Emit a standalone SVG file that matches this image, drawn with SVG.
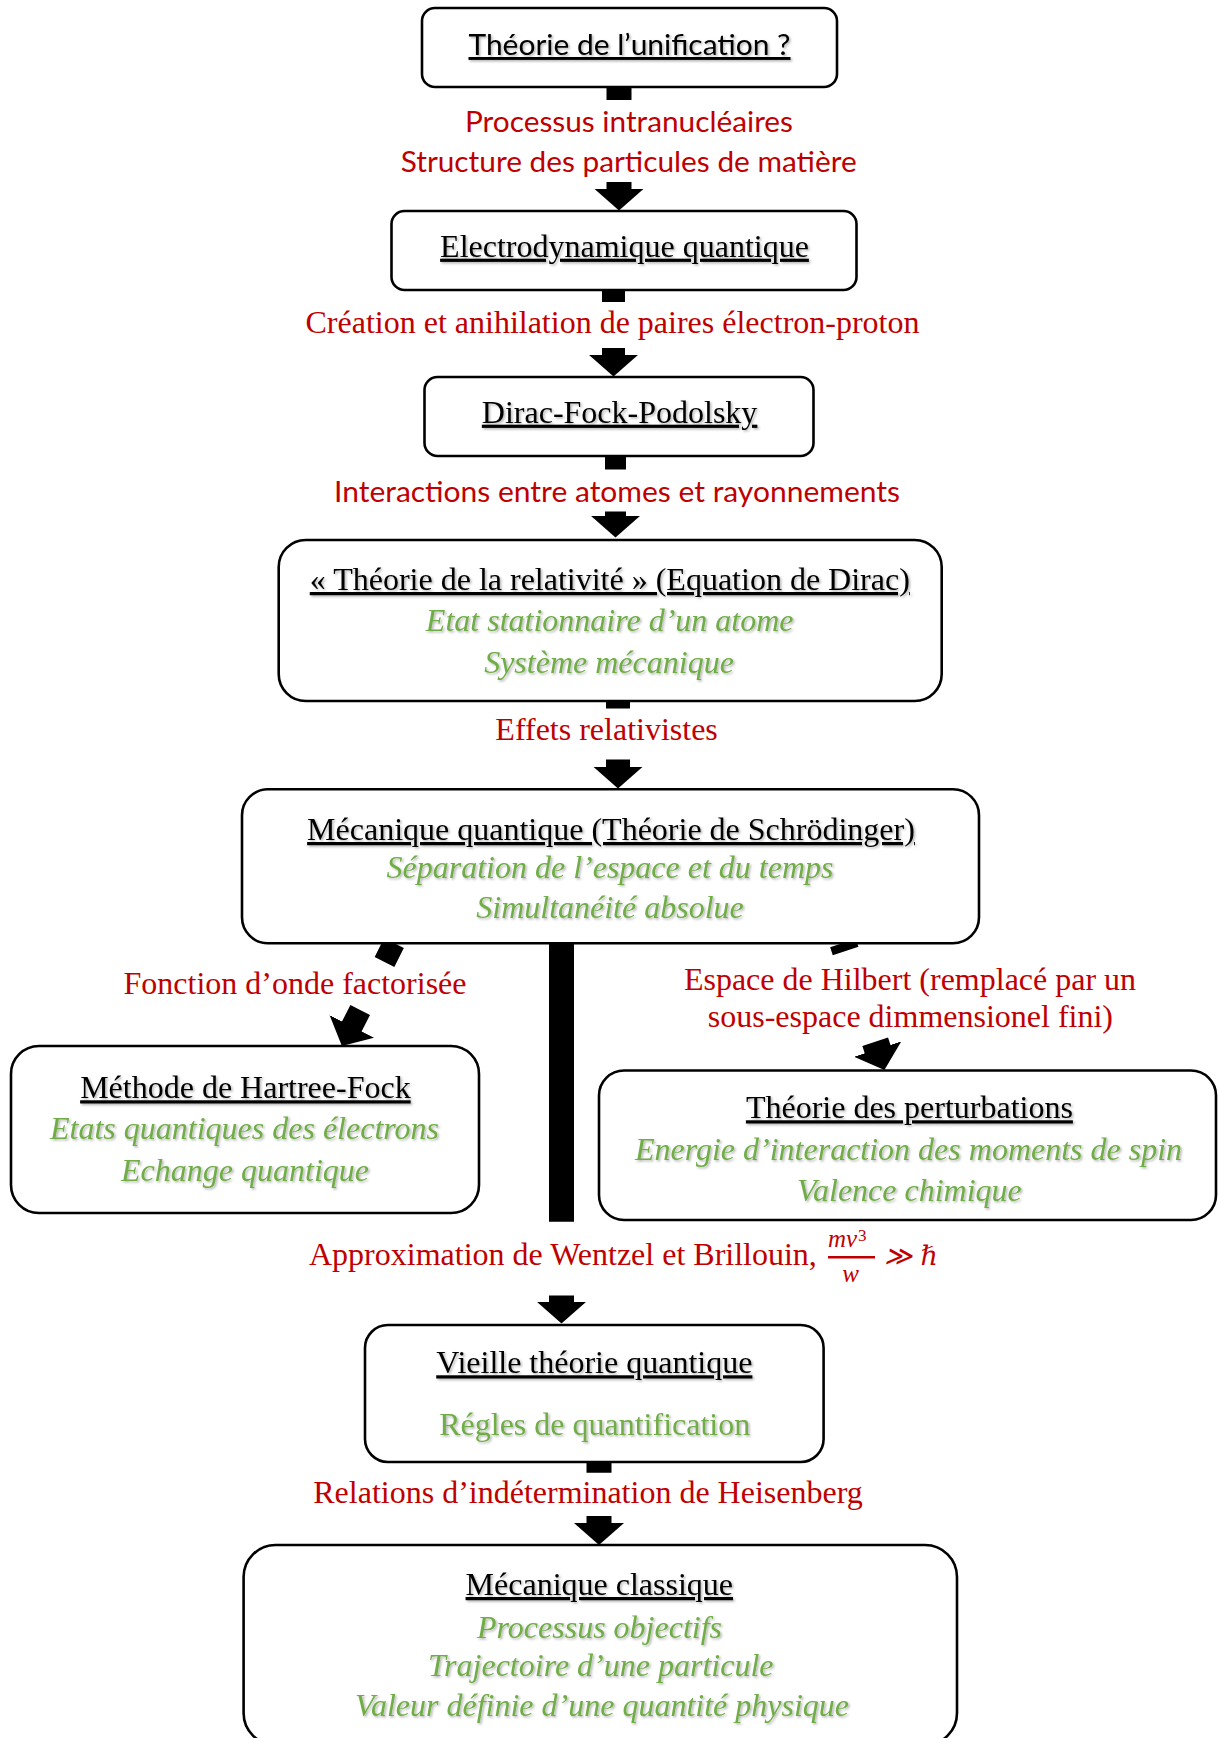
<svg xmlns="http://www.w3.org/2000/svg" width="1218" height="1738" viewBox="0 0 1218 1738">
<style>
.box{fill:#fff;stroke:#000;stroke-width:2.6}
.t{font-family:"Liberation Serif","Times New Roman",serif;font-size:32px;text-anchor:middle}
.ti{text-decoration:underline;fill:#000;filter:url(#sh)}
.g{fill:#70AD47;font-style:italic;filter:url(#sh)}
.gu{fill:#70AD47;filter:url(#sh)}
.r{fill:#C00000}
.c{font-family:Lato,"Open Sans",sans-serif;font-size:29px;text-anchor:middle}
.conn{fill:none;stroke:#000;stroke-linecap:butt}
</style>
<defs>
<filter id="sh" x="-5%" y="-20%" width="110%" height="150%">
<feDropShadow dx="1.5" dy="1.5" stdDeviation="1" flood-color="#000" flood-opacity="0.3"/>
</filter>
<marker id="ah" markerUnits="userSpaceOnUse" viewBox="0 -25 22 50" markerWidth="22" markerHeight="50" refX="1" refY="0" orient="auto">
<path d="M0,-25 L22,0 L0,25 Z" fill="#000"/>
</marker>
</defs>

<g id="connectors">
<path class="conn" stroke-width="25" d="M619 87 V100 M619 182 V189.5" marker-end="url(#ah)"/>
<path class="conn" stroke-width="23" d="M613.5 290 V302 M613.5 348 V355.5" marker-end="url(#ah)"/>
<path class="conn" stroke-width="21" d="M615.5 456 V469.5 M615.5 511.5 V516.5" marker-end="url(#ah)"/>
<path class="conn" stroke-width="24" d="M618 701 V708.5 M618 759.5 V767.5" marker-end="url(#ah)"/>
<path class="conn" stroke-width="22" d="M394 943 L384.5 962 M360.2 1010 L351.4 1027.3" marker-end="url(#ah)"/>
<path class="conn" stroke-width="27" d="M843 943 L845.6 951 M875.2 1041.7 L877.9 1050" marker-end="url(#ah)"/>
<path class="conn" stroke-width="25" d="M561.5 943 V1221.7 M561.5 1295.5 V1302.5" marker-end="url(#ah)"/>
<path class="conn" stroke-width="25" d="M599 1462 V1472.7 M599 1516 V1524" marker-end="url(#ah)"/>
</g>

<g id="labels">
<text class="c r" x="629" y="131.7" textLength="328" lengthAdjust="spacingAndGlyphs">Processus intranucléaires</text>
<text class="c r" x="628.7" y="171.7" textLength="456" lengthAdjust="spacingAndGlyphs">Structure des particules de matière</text>
<text class="t r" x="612.5" y="333.3">Création et anihilation de paires électron-proton</text>
<text class="c r" x="617" y="501.7" textLength="566" lengthAdjust="spacingAndGlyphs">Interactions entre atomes et rayonnements</text>
<text class="t r" x="606.6" y="740">Effets relativistes</text>
<text class="t r" x="295" y="994">Fonction d’onde factorisée</text>
<text class="t r" x="910" y="990">Espace de Hilbert (remplacé par un</text>
<text class="t r" x="910.4" y="1026.7">sous-espace dimmensionel fini)</text>
<g id="label-wkb">
<text class="t r" x="309" y="1265" style="text-anchor:start">Approximation de Wentzel et Brillouin,</text>
<text x="828" y="1246.7" fill="#C00000" font-family="Liberation Serif,serif" font-style="italic" font-size="25">mv</text>
<text x="858" y="1241" fill="#C00000" font-family="Liberation Serif,serif" font-size="17">3</text>
<line x1="828" y1="1257.3" x2="875" y2="1257.3" stroke="#C00000" stroke-width="2.4"/>
<text x="850.5" y="1281.7" fill="#C00000" font-family="Liberation Serif,serif" font-style="italic" font-size="25" text-anchor="middle">w</text>
<text x="884" y="1265" fill="#C00000" font-family="DejaVu Serif,serif" font-style="italic" font-size="27" textLength="54" lengthAdjust="spacingAndGlyphs">≫ ℏ</text>
</g>
<text class="t r" x="588" y="1503.3">Relations d’indétermination de Heisenberg</text>
</g>

<g id="n1">
<rect class="box" x="422" y="8" width="415" height="79" rx="13"/>
<text class="c ti" x="629.5" y="55" font-size="31" textLength="322" lengthAdjust="spacingAndGlyphs">Théorie de l’unification ?</text>
</g>
<g id="n2">
<rect class="box" x="391.5" y="211" width="465" height="79" rx="13"/>
<text class="t ti" x="624.5" y="256.7">Electrodynamique quantique</text>
</g>
<g id="n3">
<rect class="box" x="424.5" y="377" width="389" height="79" rx="13"/>
<text class="t ti" x="619.6" y="422.7">Dirac-Fock-Podolsky</text>
</g>
<g id="n4">
<rect class="box" x="278.7" y="540" width="663" height="161" rx="27"/>
<text class="t ti" x="609.8" y="590">« Théorie de la relativité » (Equation de Dirac)</text>
<text class="t g" x="609.7" y="631">Etat stationnaire d’un atome</text>
<text class="t g" x="609" y="672.5">Système mécanique</text>
</g>
<g id="n5">
<rect class="box" x="242" y="789.3" width="737" height="154" rx="26"/>
<text class="t ti" x="611" y="840">Mécanique quantique (Théorie de Schrödinger)</text>
<text class="t g" x="610" y="877.5">Séparation de l’espace et du temps</text>
<text class="t g" x="610" y="918">Simultanéité absolue</text>
</g>
<g id="n6">
<rect class="box" x="11" y="1046" width="468" height="167" rx="28"/>
<text class="t ti" x="245.4" y="1098.3">Méthode de Hartree-Fock</text>
<text class="t g" x="244.5" y="1139">Etats quantiques des électrons</text>
<text class="t g" x="245" y="1181">Echange quantique</text>
</g>
<g id="n7">
<rect class="box" x="599" y="1070.5" width="617" height="149.5" rx="25"/>
<text class="t ti" x="909.4" y="1118.3">Théorie des perturbations</text>
<text class="t g" x="908.5" y="1160">Energie d’interaction des moments de spin</text>
<text class="t g" x="909.4" y="1201">Valence chimique</text>
</g>
<g id="n8">
<rect class="box" x="365" y="1325" width="458.6" height="137" rx="23"/>
<text class="t ti" x="594.3" y="1373.3">Vieille théorie quantique</text>
<text class="t gu" x="594.7" y="1435">Régles de quantification</text>
</g>
<g id="n9">
<rect class="box" x="243.6" y="1545" width="713.4" height="200" rx="32"/>
<text class="t ti" x="599.3" y="1595">Mécanique classique</text>
<text class="t g" x="599.5" y="1637.5">Processus objectifs</text>
<text class="t g" x="600.8" y="1676">Trajectoire d’une particule</text>
<text class="t g" x="602" y="1716">Valeur définie d’une quantité physique</text>
</g>
</svg>
